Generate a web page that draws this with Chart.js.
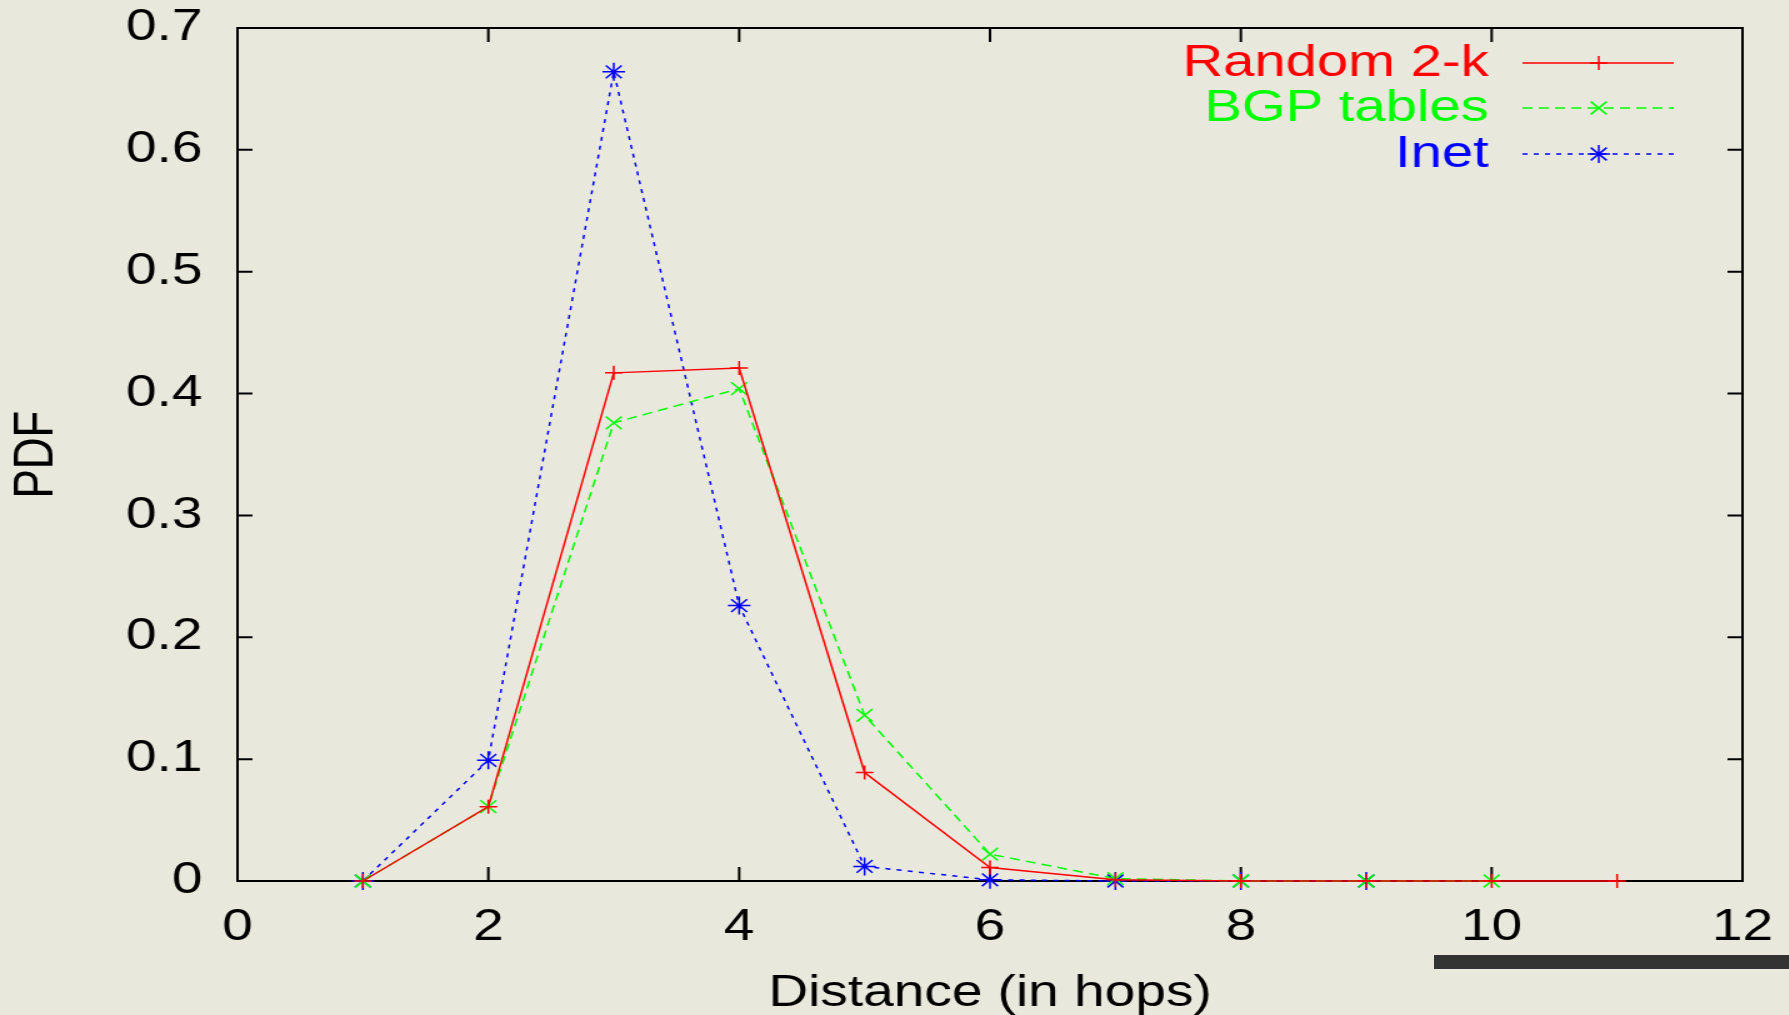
<!DOCTYPE html>
<html>
<head>
<meta charset="utf-8">
<script src="https://cdn.jsdelivr.net/npm/chart.js@4.4.1/dist/chart.umd.min.js"></script>
<style>
  html, body { margin: 0; padding: 0; background: #e8e8dc; }
  #page { position: relative; width: 1789px; height: 1015px; overflow: hidden; background: #e8e8dc; }
  /* the original figure is stretched sideways, so draw narrow and stretch */
  #stretch { position: absolute; left: 0; top: 0; width: 1431px; height: 1040px; transform: scaleX(1.25); transform-origin: 0 0; }
  #bar { position: absolute; left: 1434px; top: 955px; width: 355px; height: 14px; background: #333; }
</style>
</head>
<body>
<div id="page">
  <div id="stretch"><canvas id="chart" width="1431" height="1040"></canvas></div>
  <div id="bar"></div>
</div>
<script>
const hops = [1, 2, 3, 4, 5, 6, 7, 8, 9, 10, 11];
const random2k = [0, 0.061, 0.417, 0.421, 0.089, 0.011, 0.001, 0, 0, 0, 0];
const bgpTables = [0, 0.061, 0.376, 0.404, 0.136, 0.022, 0.002, 0, 0, 0];
const inet = [0, 0.099, 0.664, 0.226, 0.012, 0.001, 0, 0, 0];

const xTicks = [0, 2, 4, 6, 8, 10, 12];
const yTicks = [0, 0.1, 0.2, 0.3, 0.4, 0.5, 0.6, 0.7];
const yTickLabels = ['0', '0.1', '0.2', '0.3', '0.4', '0.5', '0.6', '0.7'];

const FONT = { family: '"Liberation Sans", Arial, sans-serif', size: 44 };

function points(values) {
  return values.map((v, i) => ({ x: hops[i], y: v }));
}

// gnuplot style box with inward ticks on all four sides
const framePlugin = {
  id: 'frame',
  beforeDatasetsDraw(chart) {
    const { ctx, chartArea: a, scales: { x, y } } = chart;
    ctx.save();
    ctx.strokeStyle = '#000';
    ctx.lineWidth = 2;
    ctx.beginPath();
    xTicks.forEach(v => {
      const px = x.getPixelForValue(v);
      ctx.moveTo(px, a.bottom); ctx.lineTo(px, a.bottom - 14);
      ctx.moveTo(px, a.top); ctx.lineTo(px, a.top + 14);
    });
    yTicks.forEach(v => {
      const py = y.getPixelForValue(v);
      ctx.moveTo(a.left, py); ctx.lineTo(a.left + 12, py);
      ctx.moveTo(a.right, py); ctx.lineTo(a.right - 12, py);
    });
    ctx.stroke();
    ctx.strokeRect(a.left, a.top, a.right - a.left, a.bottom - a.top);
    ctx.restore();
  }
};

// legend: right aligned label, then a line sample with the marker in the middle
const keyPlugin = {
  id: 'key',
  afterDatasetsDraw(chart) {
    const { ctx } = chart;
    const rows = [63, 108, 154];
    ctx.save();
    chart.data.datasets.forEach((ds, i) => {
      const y = rows[i];
      ctx.font = '45px ' + FONT.family;
      ctx.fillStyle = ds.borderColor;
      ctx.textAlign = 'right';
      ctx.textBaseline = 'middle';
      ctx.fillText(ds.label, 1191, y + 1);

      ctx.strokeStyle = ds.borderColor;
      ctx.lineWidth = ds.borderWidth;
      ctx.setLineDash(ds.borderDash || []);
      ctx.beginPath();
      ctx.moveTo(1218, y);
      ctx.lineTo(1339, y);
      ctx.stroke();
      ctx.setLineDash([]);
      ctx.lineWidth = ds.pointBorderWidth;
      Chart.helpers.drawPoint(ctx, {
        pointStyle: ds.pointStyle, radius: ds.pointRadius, rotation: 0, borderWidth: ds.pointBorderWidth
      }, 1279, y);
    });
    ctx.restore();
  }
};

new Chart(document.getElementById('chart'), {
  type: 'line',
  data: {
    datasets: [
      {
        label: 'Random 2-k',
        data: points(random2k),
        borderColor: '#ff0000',
        backgroundColor: '#ff0000',
        borderWidth: 1.5,
        pointStyle: 'cross',
        pointRadius: 7,
        pointBorderWidth: 1.5,
      },
      {
        label: 'BGP tables',
        data: points(bgpTables),
        borderColor: '#00ff00',
        backgroundColor: '#00ff00',
        borderWidth: 1.5,
        borderDash: [8, 5],
        pointStyle: 'crossRot',
        pointRadius: 9,
        pointBorderWidth: 1.5,
      },
      {
        label: 'Inet',
        data: points(inet),
        borderColor: '#0000ff',
        backgroundColor: '#0000ff',
        borderWidth: 1.5,
        borderDash: [4, 5],
        pointStyle: 'star',
        pointRadius: 9,
        pointBorderWidth: 1.5,
      },
    ],
  },
  options: {
    responsive: false,
    animation: false,
    devicePixelRatio: 1,
    clip: false,
    layout: { padding: { top: 28, right: 37, left: 0, bottom: 0 } },
    elements: { line: { tension: 0, fill: false } },
    plugins: { legend: { display: false }, tooltip: { enabled: false } },
    scales: {
      x: {
        type: 'linear',
        min: 0,
        max: 12,
        afterBuildTicks: s => { s.ticks = xTicks.map(v => ({ value: v })); },
        afterFit: s => { s.height = 159; s.paddingLeft = 0; s.paddingRight = 0; },
        grid: { display: false, drawTicks: false },
        border: { display: false },
        ticks: { padding: 20, color: '#000', font: FONT, maxRotation: 0, callback: v => String(v) },
        title: { display: true, text: 'Distance (in hops)', color: '#000', font: FONT, padding: { top: 0, bottom: 20 } },
      },
      y: {
        type: 'linear',
        min: 0,
        max: 0.7,
        afterBuildTicks: s => { s.ticks = yTicks.map(v => ({ value: v })); },
        afterFit: s => { s.width = 190; s.paddingTop = 0; s.paddingBottom = 0; },
        grid: { display: false, drawTicks: false },
        border: { display: false },
        ticks: { padding: 28, color: '#000', font: FONT, callback: (v, i) => yTickLabels[i] },
        title: { display: true, text: 'PDF', color: '#000', font: FONT, padding: { top: 3, bottom: 0 } },
      },
    },
  },
  plugins: [framePlugin, keyPlugin],
});
</script>
</body>
</html>
